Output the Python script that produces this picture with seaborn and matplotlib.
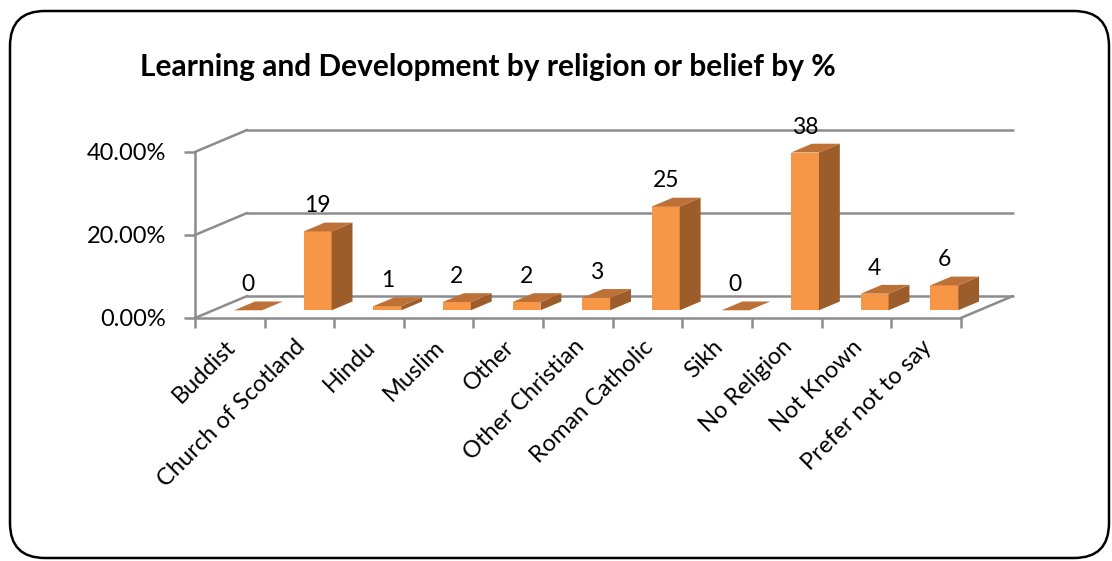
import numpy as np
import pandas as pd
import matplotlib
matplotlib.use("Agg")
import matplotlib.pyplot as plt
import seaborn as sns
from matplotlib.patches import Polygon, FancyBboxPatch
from matplotlib.transforms import ScaledTranslation, IdentityTransform

categories = ["Buddist", "Church of Scotland", "Hindu", "Muslim", "Other",
              "Other Christian", "Roman Catholic", "Sikh", "No Religion",
              "Not Known", "Prefer not to say"]
percentages = [0, 19, 1, 2, 2, 3, 25, 0, 38, 4, 6]
y_ticks = [0, 20, 40]
title = "Learning and Development by religion or belief by %"

sns.set_theme(style="white")
plt.rcParams["font.family"] = ["Lato", "DejaVu Sans"]

FRONT = "#F79646"
SIDE = "#9C5D2B"
TOP = "#BE7137"
GRID = "#8C8C8C"

DX, DY = 0.75, 5.3    # floor depth, in category units and percent units
F0, FD = 0.35, 0.40   # bar front position and bar depth, as fractions of floor depth
BAR_W = 0.40

W, H = 1112, 561
fig = plt.figure(figsize=(W / 100, H / 100), dpi=100)
ax = fig.add_axes([195 / W, (H - 318) / H, (1013 - 195) / W, 191 / H])

df = pd.DataFrame({"religion": categories, "pct": percentages})
sns.barplot(data=df, x="religion", y="pct", color=FRONT, width=BAR_W,
            saturation=1, ax=ax, zorder=3, linewidth=0)

n = len(categories)
ax.set_xlim(-0.5, n - 0.5 + DX)
ax.set_ylim(0, 46)
for s in ax.spines.values():
    s.set_visible(False)

# walls and floor
x_left, x_right = -0.5, n - 0.5
for yv in y_ticks:
    ax.plot([x_left + DX, x_right + DX], [yv + DY, yv + DY], color=GRID, lw=1.8,
            zorder=1, clip_on=False)
    ax.plot([x_left, x_left + DX], [yv, yv + DY], color=GRID, lw=1.8, zorder=1,
            clip_on=False)
ax.plot([x_left, x_left], [0, y_ticks[-1]], color=GRID, lw=1.8, zorder=1, clip_on=False)
ax.plot([x_left, x_right], [0, 0], color=GRID, lw=1.8, zorder=1, clip_on=False)
ax.plot([x_right, x_right + DX], [0, DY], color=GRID, lw=1.8, zorder=1, clip_on=False)

# turn flat bars into boxes: shift the front face into the floor, add side and top
for p, v in zip(ax.patches, percentages):
    p.set_x(p.get_x() + F0 * DX)
    p.set_y(F0 * DY)
    xl = p.get_x()
    xr = xl + p.get_width()
    y0 = p.get_y()
    y1 = y0 + p.get_height()
    ddx, ddy = FD * DX, FD * DY
    ax.add_patch(Polygon([(xr, y0), (xr + ddx, y0 + ddy), (xr + ddx, y1 + ddy), (xr, y1)],
                         closed=True, facecolor=SIDE, edgecolor="none", zorder=3))
    ax.add_patch(Polygon([(xl, y1), (xr, y1), (xr + ddx, y1 + ddy), (xl + ddx, y1 + ddy)],
                         closed=True, facecolor=TOP, edgecolor="none", zorder=3))
    ax.annotate(f"{v}", xy=(xl + p.get_width() / 2, y1), xytext=(0, 15),
                textcoords="offset pixels", ha="center", va="bottom", fontsize=16.5,
                color="black", zorder=4)

# axes ticks
ax.set_yticks(y_ticks)
ax.set_yticklabels([f"{t:.2f}%" for t in y_ticks])
ax.tick_params(axis="y", which="major", left=True, length=8, width=1.8, color=GRID,
               direction="out", pad=13, labelsize=17, labelcolor="black")
ax.set_xticks(np.arange(-0.5, n, 1), minor=True)
ax.tick_params(axis="x", which="minor", bottom=True, length=7, width=1.8, color=GRID,
               direction="out")
ax.tick_params(axis="x", which="major", bottom=False, length=0, pad=13, labelsize=17,
               labelcolor="black")
ax.set_xlabel("")
ax.set_ylabel("")
for lab in ax.get_xticklabels():
    lab.set_rotation(45)
    lab.set_ha("right")
    lab.set_va("top")
    lab.set_rotation_mode("anchor")
    lab.set_transform(lab.get_transform() + ScaledTranslation(-0.05, 0, fig.dpi_scale_trans))

fig.text(140 / W, 1 - 67 / H, title, ha="left", va="center", fontsize=21.5,
         fontweight="bold", color="black")

# rounded frame around the chart area
frame = FancyBboxPatch((10, 3), 1099, 547, boxstyle="round,pad=0,rounding_size=35",
                       transform=IdentityTransform(), facecolor="none",
                       edgecolor="black", lw=1.8)
fig.patches.append(frame)

fig.savefig("out.png", dpi=100)
